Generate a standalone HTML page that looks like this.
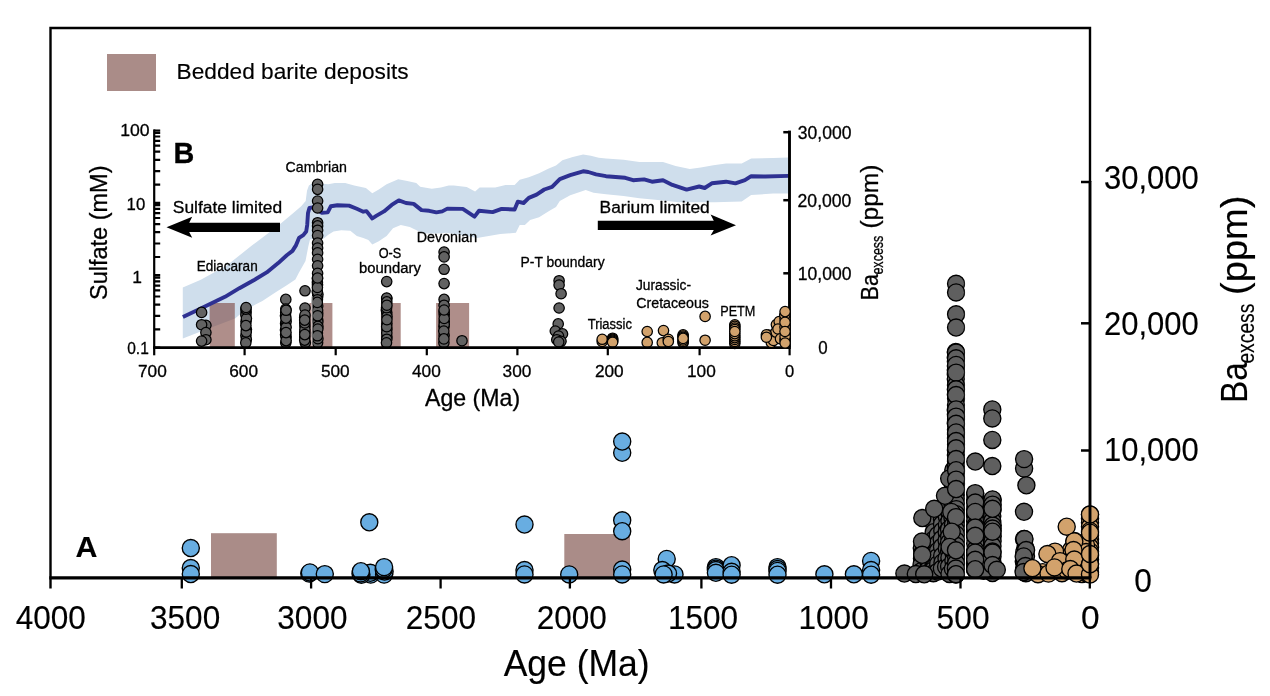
<!DOCTYPE html>
<html lang="en"><head><meta charset="utf-8"><title>Ba excess vs Age</title>
<style>
html,body{margin:0;padding:0;background:#fff;}
svg{display:block;}
text{font-family:"Liberation Sans", sans-serif;fill:#000;stroke:#000;stroke-width:0.15px;stroke-linejoin:round;}
.sm text, text.sm{stroke-width:0.3px;}
.b{fill:#68ade1;stroke:#000;stroke-width:1.35;}
.g{fill:#5f5f5f;stroke:#000;stroke-width:1.35;}
.t{fill:#d2a26c;stroke:#000;stroke-width:1.35;}
.gs{fill:#626262;stroke:#000;stroke-width:1.25;}
.ts{fill:#d2a26c;stroke:#000;stroke-width:1.25;}
.ax{stroke:#000;fill:none;}
.br{fill:#aa8c88;}
</style></head><body>
<svg width="1270" height="696" viewBox="0 0 1270 696">
<rect x="0" y="0" width="1270" height="696" fill="#fff"/>
<rect class="br" x="107" y="54" width="49" height="37"/>
<text x="176.6" y="79.4" font-size="21.5" textLength="232" lengthAdjust="spacingAndGlyphs">Bedded barite deposits</text>
<rect class="br" x="211" y="533.2" width="65.8" height="44.7"/>
<rect class="br" x="564.3" y="534" width="65.7" height="43.9"/>
<circle class="b" cx="190.8" cy="548.0" r="8.55"/>
<circle class="b" cx="190.8" cy="568.0" r="8.55"/>
<circle class="b" cx="190.8" cy="574.0" r="8.55"/>
<circle class="b" cx="309.3" cy="573.6" r="8.55"/>
<circle class="b" cx="309.9" cy="572.4" r="8.55"/>
<circle class="b" cx="324.8" cy="574.1" r="8.55"/>
<circle class="b" cx="369.3" cy="522.3" r="8.55"/>
<circle class="b" cx="370.7" cy="574.6" r="8.55"/>
<circle class="b" cx="370.3" cy="572.8" r="8.55"/>
<circle class="b" cx="361.4" cy="574.8" r="8.55"/>
<circle class="b" cx="360.5" cy="573.4" r="8.55"/>
<circle class="b" cx="360.9" cy="571.2" r="8.55"/>
<circle class="b" cx="384.1" cy="574.6" r="8.55"/>
<circle class="b" cx="384.6" cy="571.5" r="8.55"/>
<circle class="b" cx="383.7" cy="569.2" r="8.55"/>
<circle class="b" cx="384.1" cy="567.1" r="8.55"/>
<circle class="b" cx="524.5" cy="524.5" r="8.55"/>
<circle class="b" cx="524.5" cy="570.0" r="8.55"/>
<circle class="b" cx="524.5" cy="574.4" r="8.55"/>
<circle class="b" cx="569.2" cy="574.4" r="8.55"/>
<circle class="b" cx="622.2" cy="452.8" r="8.55"/>
<circle class="b" cx="622.2" cy="441.5" r="8.55"/>
<circle class="b" cx="622.2" cy="520.3" r="8.55"/>
<circle class="b" cx="622.2" cy="531.2" r="8.55"/>
<circle class="b" cx="622.2" cy="569.5" r="8.55"/>
<circle class="b" cx="622.2" cy="574.4" r="8.55"/>
<circle class="b" cx="666.7" cy="558.9" r="8.55"/>
<circle class="b" cx="662.3" cy="570.0" r="8.55"/>
<circle class="b" cx="674.5" cy="574.4" r="8.55"/>
<circle class="b" cx="668.0" cy="573.5" r="8.55"/>
<circle class="b" cx="663.6" cy="574.4" r="8.55"/>
<circle class="b" cx="715.9" cy="567.1" r="8.55"/>
<circle class="b" cx="715.9" cy="568.6" r="8.55"/>
<circle class="b" cx="715.9" cy="570.0" r="8.55"/>
<circle class="b" cx="715.9" cy="572.8" r="8.55"/>
<circle class="b" cx="731.6" cy="565.2" r="8.55"/>
<circle class="b" cx="731.6" cy="571.8" r="8.55"/>
<circle class="b" cx="731.6" cy="574.7" r="8.55"/>
<circle class="b" cx="777.5" cy="567.1" r="8.55"/>
<circle class="b" cx="777.5" cy="569.0" r="8.55"/>
<circle class="b" cx="777.5" cy="570.9" r="8.55"/>
<circle class="b" cx="777.5" cy="574.7" r="8.55"/>
<circle class="b" cx="824.4" cy="574.3" r="8.55"/>
<circle class="b" cx="853.9" cy="574.3" r="8.55"/>
<circle class="b" cx="871.1" cy="560.9" r="8.55"/>
<circle class="b" cx="871.1" cy="570.0" r="8.55"/>
<circle class="b" cx="871.1" cy="574.7" r="8.55"/>
<circle class="g" cx="921.8" cy="548.0" r="8.55"/>
<circle class="g" cx="922.2" cy="553.4" r="8.55"/>
<circle class="g" cx="922.0" cy="558.5" r="8.55"/>
<circle class="g" cx="921.6" cy="564.5" r="8.55"/>
<circle class="g" cx="921.5" cy="571.1" r="8.55"/>
<circle class="g" cx="928.1" cy="556.0" r="8.55"/>
<circle class="g" cx="928.4" cy="561.6" r="8.55"/>
<circle class="g" cx="928.1" cy="569.7" r="8.55"/>
<circle class="g" cx="933.7" cy="523.0" r="8.55"/>
<circle class="g" cx="933.7" cy="532.2" r="8.55"/>
<circle class="g" cx="934.1" cy="539.3" r="8.55"/>
<circle class="g" cx="934.0" cy="545.1" r="8.55"/>
<circle class="g" cx="933.6" cy="548.0" r="8.55"/>
<circle class="g" cx="933.6" cy="551.3" r="8.55"/>
<circle class="g" cx="933.6" cy="554.6" r="8.55"/>
<circle class="g" cx="933.6" cy="557.9" r="8.55"/>
<circle class="g" cx="933.6" cy="561.2" r="8.55"/>
<circle class="g" cx="933.6" cy="564.5" r="8.55"/>
<circle class="g" cx="933.6" cy="567.8" r="8.55"/>
<circle class="g" cx="933.2" cy="570.0" r="8.55"/>
<circle class="g" cx="933.4" cy="573.2" r="8.55"/>
<circle class="g" cx="937.7" cy="535.0" r="8.55"/>
<circle class="g" cx="938.1" cy="543.3" r="8.55"/>
<circle class="g" cx="938.0" cy="550.8" r="8.55"/>
<circle class="g" cx="937.6" cy="557.1" r="8.55"/>
<circle class="g" cx="938.2" cy="563.9" r="8.55"/>
<circle class="g" cx="937.8" cy="571.6" r="8.55"/>
<circle class="g" cx="942.0" cy="512.0" r="8.55"/>
<circle class="g" cx="942.0" cy="514.3" r="8.55"/>
<circle class="g" cx="942.0" cy="516.6" r="8.55"/>
<circle class="g" cx="942.0" cy="518.9" r="8.55"/>
<circle class="g" cx="942.0" cy="524.0" r="8.55"/>
<circle class="g" cx="942.3" cy="530.7" r="8.55"/>
<circle class="g" cx="941.7" cy="539.0" r="8.55"/>
<circle class="g" cx="942.0" cy="546.8" r="8.55"/>
<circle class="g" cx="942.2" cy="555.7" r="8.55"/>
<circle class="g" cx="942.5" cy="562.4" r="8.55"/>
<circle class="g" cx="941.9" cy="568.5" r="8.55"/>
<circle class="g" cx="946.2" cy="500.0" r="8.55"/>
<circle class="g" cx="946.0" cy="508.0" r="8.55"/>
<circle class="g" cx="946.8" cy="516.6" r="8.55"/>
<circle class="g" cx="946.9" cy="524.9" r="8.55"/>
<circle class="g" cx="946.7" cy="532.2" r="8.55"/>
<circle class="g" cx="946.6" cy="540.6" r="8.55"/>
<circle class="g" cx="946.8" cy="548.4" r="8.55"/>
<circle class="g" cx="946.5" cy="558.2" r="8.55"/>
<circle class="g" cx="946.1" cy="566.8" r="8.55"/>
<circle class="g" cx="949.6" cy="505.0" r="8.55"/>
<circle class="g" cx="949.8" cy="514.3" r="8.55"/>
<circle class="g" cx="949.4" cy="521.0" r="8.55"/>
<circle class="g" cx="949.0" cy="529.2" r="8.55"/>
<circle class="g" cx="949.2" cy="536.5" r="8.55"/>
<circle class="g" cx="949.1" cy="542.6" r="8.55"/>
<circle class="g" cx="949.1" cy="551.1" r="8.55"/>
<circle class="g" cx="949.4" cy="557.7" r="8.55"/>
<circle class="g" cx="949.1" cy="566.5" r="8.55"/>
<circle class="g" cx="949.5" cy="573.9" r="8.55"/>
<circle class="g" cx="953.3" cy="470.0" r="8.55"/>
<circle class="g" cx="952.8" cy="478.3" r="8.55"/>
<circle class="g" cx="952.9" cy="485.0" r="8.55"/>
<circle class="g" cx="953.5" cy="493.3" r="8.55"/>
<circle class="g" cx="952.7" cy="499.1" r="8.55"/>
<circle class="g" cx="952.7" cy="505.2" r="8.55"/>
<circle class="g" cx="953.1" cy="512.1" r="8.55"/>
<circle class="g" cx="952.5" cy="518.3" r="8.55"/>
<circle class="g" cx="952.9" cy="525.0" r="8.55"/>
<circle class="g" cx="953.5" cy="532.2" r="8.55"/>
<circle class="g" cx="953.0" cy="539.9" r="8.55"/>
<circle class="g" cx="953.2" cy="547.3" r="8.55"/>
<circle class="g" cx="953.4" cy="552.7" r="8.55"/>
<circle class="g" cx="953.4" cy="560.7" r="8.55"/>
<circle class="g" cx="952.9" cy="568.8" r="8.55"/>
<circle class="g" cx="955.8" cy="352.0" r="8.55"/>
<circle class="g" cx="955.8" cy="357.5" r="8.55"/>
<circle class="g" cx="955.9" cy="361.6" r="8.55"/>
<circle class="g" cx="955.9" cy="365.9" r="8.55"/>
<circle class="g" cx="955.8" cy="370.0" r="8.55"/>
<circle class="g" cx="955.8" cy="374.3" r="8.55"/>
<circle class="g" cx="955.8" cy="379.1" r="8.55"/>
<circle class="g" cx="956.0" cy="385.3" r="8.55"/>
<circle class="g" cx="955.9" cy="389.6" r="8.55"/>
<circle class="g" cx="955.9" cy="394.4" r="8.55"/>
<circle class="g" cx="956.1" cy="398.6" r="8.55"/>
<circle class="g" cx="956.0" cy="405.1" r="8.55"/>
<circle class="g" cx="955.8" cy="410.2" r="8.55"/>
<circle class="g" cx="955.9" cy="414.4" r="8.55"/>
<circle class="g" cx="956.1" cy="419.0" r="8.55"/>
<circle class="g" cx="955.8" cy="423.3" r="8.55"/>
<circle class="g" cx="956.0" cy="429.7" r="8.55"/>
<circle class="g" cx="956.0" cy="434.0" r="8.55"/>
<circle class="g" cx="956.0" cy="437.9" r="8.55"/>
<circle class="g" cx="956.1" cy="444.4" r="8.55"/>
<circle class="g" cx="955.9" cy="450.1" r="8.55"/>
<circle class="g" cx="955.9" cy="454.9" r="8.55"/>
<circle class="g" cx="956.0" cy="460.9" r="8.55"/>
<circle class="g" cx="955.9" cy="466.8" r="8.55"/>
<circle class="g" cx="956.1" cy="471.3" r="8.55"/>
<circle class="g" cx="956.1" cy="477.7" r="8.55"/>
<circle class="g" cx="956.1" cy="483.7" r="8.55"/>
<circle class="g" cx="955.9" cy="489.5" r="8.55"/>
<circle class="g" cx="955.9" cy="494.8" r="8.55"/>
<circle class="g" cx="955.8" cy="498.8" r="8.55"/>
<circle class="g" cx="955.9" cy="503.4" r="8.55"/>
<circle class="g" cx="956.2" cy="509.1" r="8.55"/>
<circle class="g" cx="956.2" cy="514.2" r="8.55"/>
<circle class="g" cx="956.2" cy="520.6" r="8.55"/>
<circle class="g" cx="955.9" cy="525.5" r="8.55"/>
<circle class="g" cx="955.9" cy="530.0" r="8.55"/>
<circle class="g" cx="956.0" cy="534.4" r="8.55"/>
<circle class="g" cx="956.1" cy="540.6" r="8.55"/>
<circle class="g" cx="956.1" cy="545.8" r="8.55"/>
<circle class="g" cx="955.8" cy="551.8" r="8.55"/>
<circle class="g" cx="956.2" cy="557.4" r="8.55"/>
<circle class="g" cx="956.1" cy="563.3" r="8.55"/>
<circle class="g" cx="955.9" cy="568.5" r="8.55"/>
<circle class="g" cx="955.9" cy="574.4" r="8.55"/>
<circle class="g" cx="1025.4" cy="548.0" r="8.55"/>
<circle class="g" cx="1024.3" cy="552.3" r="8.55"/>
<circle class="g" cx="1024.9" cy="557.8" r="8.55"/>
<circle class="g" cx="1023.8" cy="561.5" r="8.55"/>
<circle class="g" cx="1025.3" cy="565.2" r="8.55"/>
<circle class="g" cx="1023.8" cy="570.4" r="8.55"/>
<circle class="g" cx="1026.0" cy="556.0" r="8.55"/>
<circle class="g" cx="1024.7" cy="562.5" r="8.55"/>
<circle class="g" cx="1024.3" cy="568.6" r="8.55"/>
<circle class="g" cx="1025.9" cy="573.2" r="8.55"/>
<circle class="g" cx="975.2" cy="494.0" r="8.55"/>
<circle class="g" cx="975.2" cy="500.3" r="8.55"/>
<circle class="g" cx="975.4" cy="506.5" r="8.55"/>
<circle class="g" cx="975.1" cy="510.9" r="8.55"/>
<circle class="g" cx="975.0" cy="515.6" r="8.55"/>
<circle class="g" cx="975.1" cy="521.0" r="8.55"/>
<circle class="g" cx="975.0" cy="526.0" r="8.55"/>
<circle class="g" cx="975.1" cy="532.3" r="8.55"/>
<circle class="g" cx="975.3" cy="537.4" r="8.55"/>
<circle class="g" cx="975.2" cy="543.6" r="8.55"/>
<circle class="g" cx="975.2" cy="549.9" r="8.55"/>
<circle class="g" cx="975.2" cy="555.2" r="8.55"/>
<circle class="g" cx="975.2" cy="559.1" r="8.55"/>
<circle class="g" cx="974.9" cy="563.5" r="8.55"/>
<circle class="g" cx="975.0" cy="569.5" r="8.55"/>
<circle class="g" cx="992.6" cy="500.0" r="8.55"/>
<circle class="g" cx="992.4" cy="505.1" r="8.55"/>
<circle class="g" cx="992.5" cy="510.2" r="8.55"/>
<circle class="g" cx="992.3" cy="515.9" r="8.55"/>
<circle class="g" cx="992.3" cy="521.0" r="8.55"/>
<circle class="g" cx="992.7" cy="525.5" r="8.55"/>
<circle class="g" cx="992.5" cy="530.5" r="8.55"/>
<circle class="g" cx="992.7" cy="536.2" r="8.55"/>
<circle class="g" cx="992.6" cy="541.0" r="8.55"/>
<circle class="g" cx="992.5" cy="546.0" r="8.55"/>
<circle class="g" cx="992.5" cy="551.5" r="8.55"/>
<circle class="g" cx="992.5" cy="556.6" r="8.55"/>
<circle class="g" cx="992.6" cy="562.7" r="8.55"/>
<circle class="g" cx="992.8" cy="568.6" r="8.55"/>
<circle class="g" cx="992.5" cy="573.0" r="8.55"/>
<circle class="g" cx="984.3" cy="560.0" r="8.55"/>
<circle class="g" cx="983.6" cy="564.9" r="8.55"/>
<circle class="g" cx="983.6" cy="570.7" r="8.55"/>
<circle class="g" cx="904.4" cy="573.5" r="8.55"/>
<circle class="g" cx="915.8" cy="574.0" r="8.55"/>
<circle class="g" cx="924.2" cy="574.3" r="8.55"/>
<circle class="g" cx="922.3" cy="518.0" r="8.55"/>
<circle class="g" cx="922.0" cy="541.5" r="8.55"/>
<circle class="g" cx="922.2" cy="554.8" r="8.55"/>
<circle class="g" cx="934.2" cy="508.8" r="8.55"/>
<circle class="g" cx="945.0" cy="495.8" r="8.55"/>
<circle class="g" cx="949.2" cy="478.6" r="8.55"/>
<circle class="g" cx="956.1" cy="283.8" r="8.55"/>
<circle class="g" cx="956.1" cy="292.4" r="8.55"/>
<circle class="g" cx="956.1" cy="314.3" r="8.55"/>
<circle class="g" cx="956.1" cy="327.5" r="8.55"/>
<circle class="g" cx="956.1" cy="352.5" r="8.55"/>
<circle class="g" cx="956.1" cy="358.3" r="8.55"/>
<circle class="g" cx="956.1" cy="364.9" r="8.55"/>
<circle class="g" cx="956.1" cy="372.6" r="8.55"/>
<circle class="g" cx="956.1" cy="389.3" r="8.55"/>
<circle class="g" cx="956.1" cy="395.0" r="8.55"/>
<circle class="g" cx="956.1" cy="409.4" r="8.55"/>
<circle class="g" cx="956.1" cy="416.6" r="8.55"/>
<circle class="g" cx="956.1" cy="423.8" r="8.55"/>
<circle class="g" cx="956.1" cy="432.4" r="8.55"/>
<circle class="g" cx="956.1" cy="441.0" r="8.55"/>
<circle class="g" cx="956.1" cy="448.3" r="8.55"/>
<circle class="g" cx="956.1" cy="459.0" r="8.55"/>
<circle class="g" cx="956.1" cy="470.2" r="8.55"/>
<circle class="g" cx="956.1" cy="479.6" r="8.55"/>
<circle class="g" cx="956.1" cy="489.0" r="8.55"/>
<circle class="g" cx="951.3" cy="511.9" r="8.55"/>
<circle class="g" cx="956.0" cy="517.1" r="8.55"/>
<circle class="g" cx="951.7" cy="531.7" r="8.55"/>
<circle class="g" cx="949.6" cy="546.9" r="8.55"/>
<circle class="g" cx="956.0" cy="550.3" r="8.55"/>
<circle class="g" cx="956.0" cy="574.2" r="8.55"/>
<circle class="g" cx="975.3" cy="461.5" r="8.55"/>
<circle class="g" cx="975.2" cy="493.1" r="8.55"/>
<circle class="g" cx="975.2" cy="502.5" r="8.55"/>
<circle class="g" cx="975.2" cy="511.9" r="8.55"/>
<circle class="g" cx="975.2" cy="527.5" r="8.55"/>
<circle class="g" cx="975.2" cy="535.8" r="8.55"/>
<circle class="g" cx="975.2" cy="552.5" r="8.55"/>
<circle class="g" cx="975.2" cy="559.8" r="8.55"/>
<circle class="g" cx="975.2" cy="569.2" r="8.55"/>
<circle class="g" cx="992.3" cy="409.4" r="8.55"/>
<circle class="g" cx="992.3" cy="418.4" r="8.55"/>
<circle class="g" cx="992.3" cy="439.9" r="8.55"/>
<circle class="g" cx="992.3" cy="466.0" r="8.55"/>
<circle class="g" cx="992.5" cy="499.4" r="8.55"/>
<circle class="g" cx="992.5" cy="504.6" r="8.55"/>
<circle class="g" cx="992.5" cy="508.8" r="8.55"/>
<circle class="g" cx="992.5" cy="528.5" r="8.55"/>
<circle class="g" cx="992.5" cy="531.7" r="8.55"/>
<circle class="g" cx="992.5" cy="552.5" r="8.55"/>
<circle class="g" cx="992.5" cy="565.0" r="8.55"/>
<circle class="g" cx="996.8" cy="569.8" r="8.55"/>
<circle class="g" cx="1024.1" cy="468.6" r="8.55"/>
<circle class="g" cx="1024.1" cy="459.1" r="8.55"/>
<circle class="g" cx="1026.4" cy="485.3" r="8.55"/>
<circle class="g" cx="1024.0" cy="511.8" r="8.55"/>
<circle class="g" cx="1024.0" cy="538.9" r="8.55"/>
<circle class="g" cx="1024.5" cy="539.0" r="8.55"/>
<circle class="g" cx="1026.1" cy="550.0" r="8.55"/>
<circle class="g" cx="1023.7" cy="556.4" r="8.55"/>
<circle class="g" cx="1025.4" cy="566.0" r="8.55"/>
<circle class="g" cx="1023.6" cy="572.0" r="8.55"/>
<rect x="964.9" y="270" width="0.9" height="306" fill="#fff"/>
<circle class="t" cx="1074.5" cy="541.0" r="8.55"/>
<circle class="t" cx="1074.5" cy="545.2" r="8.55"/>
<circle class="t" cx="1074.5" cy="549.4" r="8.55"/>
<circle class="t" cx="1074.5" cy="553.6" r="8.55"/>
<circle class="t" cx="1074.5" cy="557.8" r="8.55"/>
<circle class="t" cx="1074.5" cy="562.0" r="8.55"/>
<circle class="t" cx="1074.5" cy="566.2" r="8.55"/>
<circle class="t" cx="1074.5" cy="570.4" r="8.55"/>
<circle class="t" cx="1071.0" cy="550.0" r="8.55"/>
<circle class="t" cx="1071.0" cy="555.0" r="8.55"/>
<circle class="t" cx="1071.0" cy="560.0" r="8.55"/>
<circle class="t" cx="1071.0" cy="565.0" r="8.55"/>
<circle class="t" cx="1071.0" cy="570.0" r="8.55"/>
<circle class="t" cx="1078.5" cy="549.0" r="8.55"/>
<circle class="t" cx="1078.5" cy="555.5" r="8.55"/>
<circle class="t" cx="1078.5" cy="562.0" r="8.55"/>
<circle class="t" cx="1078.5" cy="568.5" r="8.55"/>
<circle class="t" cx="1082.0" cy="556.0" r="8.55"/>
<circle class="t" cx="1082.0" cy="562.0" r="8.55"/>
<circle class="t" cx="1082.0" cy="568.0" r="8.55"/>
<circle class="t" cx="1082.0" cy="574.0" r="8.55"/>
<circle class="t" cx="1090.0" cy="514.5" r="8.55"/>
<circle class="t" cx="1090.0" cy="518.6" r="8.55"/>
<circle class="t" cx="1090.0" cy="522.7" r="8.55"/>
<circle class="t" cx="1090.0" cy="526.8" r="8.55"/>
<circle class="t" cx="1090.0" cy="530.9" r="8.55"/>
<circle class="t" cx="1090.0" cy="535.0" r="8.55"/>
<circle class="t" cx="1090.0" cy="539.1" r="8.55"/>
<circle class="t" cx="1090.0" cy="543.2" r="8.55"/>
<circle class="t" cx="1090.0" cy="547.3" r="8.55"/>
<circle class="t" cx="1090.0" cy="551.4" r="8.55"/>
<circle class="t" cx="1090.0" cy="555.5" r="8.55"/>
<circle class="t" cx="1090.0" cy="559.6" r="8.55"/>
<circle class="t" cx="1090.0" cy="563.7" r="8.55"/>
<circle class="t" cx="1090.0" cy="567.8" r="8.55"/>
<circle class="t" cx="1090.0" cy="571.9" r="8.55"/>
<circle class="t" cx="1086.0" cy="545.0" r="8.55"/>
<circle class="t" cx="1086.0" cy="552.0" r="8.55"/>
<circle class="t" cx="1086.0" cy="559.0" r="8.55"/>
<circle class="t" cx="1086.0" cy="566.0" r="8.55"/>
<circle class="t" cx="1086.0" cy="573.0" r="8.55"/>
<circle class="t" cx="1066.7" cy="526.7" r="8.55"/>
<circle class="t" cx="1055.0" cy="551.6" r="8.55"/>
<circle class="t" cx="1047.4" cy="554.0" r="8.55"/>
<circle class="t" cx="1060.0" cy="561.1" r="8.55"/>
<circle class="t" cx="1042.7" cy="572.2" r="8.55"/>
<circle class="t" cx="1038.0" cy="574.2" r="8.55"/>
<circle class="t" cx="1048.5" cy="573.6" r="8.55"/>
<circle class="t" cx="1062.0" cy="573.2" r="8.55"/>
<circle class="t" cx="1067.0" cy="570.5" r="8.55"/>
<circle class="t" cx="1032.4" cy="568.2" r="8.55"/>
<circle class="t" cx="1054.5" cy="567.4" r="8.55"/>
<circle class="t" cx="1074.3" cy="541.4" r="8.55"/>
<circle class="t" cx="1073.5" cy="550.0" r="8.55"/>
<circle class="t" cx="1074.3" cy="559.5" r="8.55"/>
<circle class="t" cx="1070.3" cy="569.0" r="8.55"/>
<circle class="t" cx="1076.5" cy="573.5" r="8.55"/>
<circle class="t" cx="1090.0" cy="574.5" r="8.55"/>
<circle class="t" cx="1090.0" cy="564.3" r="8.55"/>
<circle class="t" cx="1090.0" cy="554.0" r="8.55"/>
<circle class="t" cx="1090.0" cy="532.7" r="8.55"/>
<circle class="t" cx="1090.0" cy="514.5" r="8.55"/>
<path class="ax" stroke-width="2.4" d="M50.5,588.4V28.05H1090V182"/>
<path class="ax" stroke-width="2.9" d="M1090,181V577.9"/>
<path class="ax" stroke-width="3.1" d="M49.3,577.9H1091.4"/>
<path class="ax" stroke-width="2.3" d="M181.8,577.9V588.5M311.1,577.9V588.5M440.6,577.9V588.5M569.9,577.9V588.5M701.4,577.9V588.5M831,577.9V588.5M960.5,577.9V588.5M1089.8,577.9V588.5"/>
<text x="50.8" y="628.7" font-size="32.6" textLength="70.2" lengthAdjust="spacingAndGlyphs" text-anchor="middle">4000</text>
<text x="185.10000000000002" y="628.7" font-size="32.6" textLength="70.2" lengthAdjust="spacingAndGlyphs" text-anchor="middle">3500</text>
<text x="312.40000000000003" y="628.7" font-size="32.6" textLength="70.2" lengthAdjust="spacingAndGlyphs" text-anchor="middle">3000</text>
<text x="440.90000000000003" y="628.7" font-size="32.6" textLength="70.2" lengthAdjust="spacingAndGlyphs" text-anchor="middle">2500</text>
<text x="571.8" y="628.7" font-size="32.6" textLength="70.2" lengthAdjust="spacingAndGlyphs" text-anchor="middle">2000</text>
<text x="702.9999999999999" y="628.7" font-size="32.6" textLength="70.2" lengthAdjust="spacingAndGlyphs" text-anchor="middle">1500</text>
<text x="833.5999999999999" y="628.7" font-size="32.6" textLength="70.2" lengthAdjust="spacingAndGlyphs" text-anchor="middle">1000</text>
<text x="963.0999999999999" y="628.7" font-size="32.6" textLength="53" lengthAdjust="spacingAndGlyphs" text-anchor="middle">500</text>
<text x="1090.3999999999999" y="628.7" font-size="32.6" textLength="18.6" lengthAdjust="spacingAndGlyphs" text-anchor="middle">0</text>
<path class="ax" stroke-width="2.5" d="M1081,182H1090"/>
<path class="ax" stroke-width="2.5" d="M1081,323.3H1090"/>
<path class="ax" stroke-width="2.5" d="M1081,450.5H1090"/>
<text x="1104" y="189.3" font-size="32.5" textLength="94.8" lengthAdjust="spacingAndGlyphs">30,000</text>
<text x="1104" y="335.1" font-size="32.5" textLength="94.8" lengthAdjust="spacingAndGlyphs">20,000</text>
<text x="1104" y="461.2" font-size="32.5" textLength="94.8" lengthAdjust="spacingAndGlyphs">10,000</text>
<text x="1134.2" y="591.8" font-size="32.5" textLength="17.6" lengthAdjust="spacingAndGlyphs">0</text>
<text x="576.7" y="675.9" font-size="37" textLength="146" lengthAdjust="spacingAndGlyphs" text-anchor="middle">Age (Ma)</text>
<text x="75.4" y="557" font-size="30.4" font-weight="bold">A</text>
<g transform="translate(1246.7,403) rotate(-90)">
<text x="0" y="0" font-size="37.4" textLength="40.6" lengthAdjust="spacingAndGlyphs">Ba</text>
<text x="39.4" y="7.1" font-size="23.6" textLength="60" lengthAdjust="spacingAndGlyphs">excess</text>
<text x="108" y="0" font-size="37.4" textLength="99.5" lengthAdjust="spacingAndGlyphs">(ppm)</text>
</g>
<g class="sm">
<path fill="#cfdeec" d="M182.8,287.6L200.8,279.8L226.7,265.6L252.5,245L278.4,225.6L293.9,212.6L301.2,206.2L305.7,201L307,190.7L308.9,185.5L312.8,182.9L328.3,184.2L334.8,182.9L345.2,182.9L354.2,185.5L365.9,188.1L372.3,193.3L378.8,189.4L386.6,184.2L398.2,179.3L407.3,181L416.3,182.9L420.2,186.8L431.8,188.8L440.9,187.5L448.7,185.5L453.8,185.6L466.7,186.9L475.1,191.4L479.6,187.5L495.2,187.5L505.5,184.9L514.6,184.9L519.7,179.8L528.8,177.2L539.1,173.3L548.2,168.8L556,165.5L562.4,160.3L572.8,157.1L583.1,154.5L590.9,155.8L598.7,157.8L606,158.6L623.6,159.7L639.4,162L663,162L675.6,166L689.8,169.1L700.8,167.6L713.4,165.2L726,163.6L741.7,163.6L751.2,158.6L773.2,158.1L788.5,157.5L788.5,193.5L773.2,193.5L751.2,195.1L741.7,201.4L715,202.2L678.7,202.2L663,200.6L639.4,198.3L623.6,195.9L606,194.2L593.5,192.7L585.7,190.1L570.2,195.3L559.8,201.1L556,206.9L549.5,210.8L539.1,217.3L530.1,219.9L524.9,225L519.7,225L515.9,232.8L500.3,234.1L488.7,236L477,238L464.1,235.4L446,232.8L439,233.6L425.4,233.4L417.6,230.8L409.8,226.9L400.8,225L393,228.2L386.6,236L378.8,241.2L372.3,244.4L368.4,239.9L363.3,237.9L356.8,236L350.3,230.8L341.3,230.2L333.5,231.4L328.3,234.7L323.8,238.6L310,239.5L308.3,246.6L305.5,260.9L299,272.4L295.4,279.6L286.8,285.3L275.3,292.5L262.4,301.1L253.7,305.5L243.7,311.2L235.1,318.4L200.8,331.5L182.8,338.5Z"/>
<rect fill="#7e4942" opacity="0.62" x="209.6" y="303" width="25.2" height="44.6"/>
<rect fill="#7e4942" opacity="0.62" x="309.4" y="303" width="23.0" height="44.6"/>
<rect fill="#7e4942" opacity="0.62" x="380.9" y="303" width="19.8" height="44.6"/>
<rect fill="#7e4942" opacity="0.62" x="436.1" y="303" width="33.0" height="44.6"/>
<path fill="none" stroke="#2e3192" stroke-width="3.9" stroke-linejoin="round" stroke-linecap="butt" d="M182.9,316.9L198.7,309.5L225,296.8L239.4,288.2L253.7,280.3L266.7,272.4L278.2,263.1L286.8,255.2L292.5,250.9L296.1,245.1L299,237.9L303.3,235.1L306.2,231.5L307.2,225L308,213L309.4,208L312.8,207.3L321.9,212.7L327.7,212.4L330.9,206.2L337.4,205.2L349,205.6L356.8,208.8L363.3,211.7L366.5,211.1L372.3,218.5L376.2,215.9L384,211.4L391.7,204.9L398.8,200.4L406,203L413.7,203.9L421.5,210.1L429.2,210.8L436.4,212.4L442.2,211.4L447.4,208.6L462.8,208.9L474.5,216.6L479,210.8L492.6,212.1L501.6,208.9L514.6,209.5L517.8,201.7L523.6,203L528.8,197.9L536.6,194.6L544.3,189.5L552.1,186.9L559.8,179.1L570.2,175.2L583.1,171.3L588.3,172L596.1,174.3L606,176.2L625.2,177.8L633.1,180.2L644.1,179.4L652,181.7L663,180.2L672.4,184.9L686.6,189.6L699.2,186.5L704.7,188L711.8,183.3L726,181.7L735.4,183.3L744.9,180.2L751.2,176.2L765.4,176.5L788.5,175.9"/>
<circle class="gs" cx="201.6" cy="312.4" r="5.2"/>
<circle class="gs" cx="205.9" cy="325.3" r="5.2"/>
<circle class="gs" cx="201.6" cy="324.7" r="5.2"/>
<circle class="gs" cx="205.9" cy="332.5" r="5.2"/>
<circle class="gs" cx="205.9" cy="339.7" r="5.2"/>
<circle class="gs" cx="201.6" cy="341.1" r="5.2"/>
<circle class="gs" cx="246.4" cy="329.6" r="5.2"/>
<circle class="gs" cx="245.9" cy="335.5" r="5.2"/>
<circle class="gs" cx="246.3" cy="339.4" r="5.2"/>
<circle class="gs" cx="246.0" cy="321.7" r="5.2"/>
<circle class="gs" cx="246.1" cy="311.9" r="5.2"/>
<circle class="gs" cx="245.9" cy="314.9" r="5.2"/>
<circle class="gs" cx="246.2" cy="332.0" r="5.2"/>
<circle class="gs" cx="246.4" cy="318.6" r="5.2"/>
<circle class="gs" cx="245.9" cy="309.1" r="5.2"/>
<circle class="gs" cx="245.8" cy="342.8" r="5.2"/>
<circle class="gs" cx="245.9" cy="325.6" r="5.2"/>
<circle class="gs" cx="246.1" cy="307.5" r="5.2"/>
<circle class="gs" cx="285.8" cy="299.4" r="5.2"/>
<circle class="gs" cx="285.6" cy="323.6" r="5.2"/>
<circle class="gs" cx="286.1" cy="337.1" r="5.2"/>
<circle class="gs" cx="286.1" cy="321.2" r="5.2"/>
<circle class="gs" cx="285.5" cy="330.0" r="5.2"/>
<circle class="gs" cx="285.5" cy="315.8" r="5.2"/>
<circle class="gs" cx="285.8" cy="342.8" r="5.2"/>
<circle class="gs" cx="286.1" cy="327.2" r="5.2"/>
<circle class="gs" cx="285.8" cy="309.0" r="5.2"/>
<circle class="gs" cx="285.7" cy="312.5" r="5.2"/>
<circle class="gs" cx="285.6" cy="334.8" r="5.2"/>
<circle class="gs" cx="285.9" cy="318.1" r="5.2"/>
<circle class="gs" cx="286.1" cy="340.6" r="5.2"/>
<circle class="gs" cx="286.0" cy="332.6" r="5.2"/>
<circle class="gs" cx="286.1" cy="310.3" r="5.2"/>
<circle class="gs" cx="305.0" cy="290.8" r="5.2"/>
<circle class="gs" cx="305.0" cy="308.0" r="5.2"/>
<circle class="gs" cx="304.8" cy="332.3" r="5.2"/>
<circle class="gs" cx="304.9" cy="326.0" r="5.2"/>
<circle class="gs" cx="304.8" cy="337.0" r="5.2"/>
<circle class="gs" cx="304.9" cy="329.6" r="5.2"/>
<circle class="gs" cx="305.3" cy="342.8" r="5.2"/>
<circle class="gs" cx="304.7" cy="317.5" r="5.2"/>
<circle class="gs" cx="304.7" cy="340.1" r="5.2"/>
<circle class="gs" cx="304.8" cy="322.9" r="5.2"/>
<circle class="gs" cx="305.0" cy="315.0" r="5.2"/>
<circle class="gs" cx="304.8" cy="334.6" r="5.2"/>
<circle class="gs" cx="304.7" cy="320.1" r="5.2"/>
<circle class="gs" cx="317.6" cy="184.3" r="5.2"/>
<circle class="gs" cx="317.6" cy="189.3" r="5.2"/>
<circle class="gs" cx="317.6" cy="201.1" r="5.2"/>
<circle class="gs" cx="317.6" cy="208.0" r="5.2"/>
<circle class="gs" cx="317.6" cy="222.7" r="5.2"/>
<circle class="gs" cx="317.6" cy="225.9" r="5.2"/>
<circle class="gs" cx="317.6" cy="230.2" r="5.2"/>
<circle class="gs" cx="317.6" cy="235.6" r="5.2"/>
<circle class="gs" cx="317.6" cy="243.1" r="5.2"/>
<circle class="gs" cx="317.6" cy="248.0" r="5.2"/>
<circle class="gs" cx="317.6" cy="252.8" r="5.2"/>
<circle class="gs" cx="317.6" cy="259.3" r="5.2"/>
<circle class="gs" cx="317.6" cy="265.8" r="5.2"/>
<circle class="gs" cx="317.6" cy="273.3" r="5.2"/>
<circle class="gs" cx="317.5" cy="297.4" r="5.2"/>
<circle class="gs" cx="317.7" cy="319.8" r="5.2"/>
<circle class="gs" cx="317.7" cy="313.3" r="5.2"/>
<circle class="gs" cx="317.7" cy="306.0" r="5.2"/>
<circle class="gs" cx="317.9" cy="294.4" r="5.2"/>
<circle class="gs" cx="317.8" cy="322.1" r="5.2"/>
<circle class="gs" cx="317.9" cy="326.4" r="5.2"/>
<circle class="gs" cx="317.4" cy="282.2" r="5.2"/>
<circle class="gs" cx="317.4" cy="278.6" r="5.2"/>
<circle class="gs" cx="317.3" cy="291.5" r="5.2"/>
<circle class="gs" cx="317.4" cy="333.0" r="5.2"/>
<circle class="gs" cx="317.6" cy="310.3" r="5.2"/>
<circle class="gs" cx="317.4" cy="299.7" r="5.2"/>
<circle class="gs" cx="317.5" cy="284.7" r="5.2"/>
<circle class="gs" cx="317.6" cy="342.8" r="5.2"/>
<circle class="gs" cx="317.4" cy="287.4" r="5.2"/>
<circle class="gs" cx="317.9" cy="338.7" r="5.2"/>
<circle class="gs" cx="317.3" cy="302.4" r="5.2"/>
<circle class="gs" cx="317.8" cy="329.0" r="5.2"/>
<circle class="gs" cx="317.6" cy="278.0" r="5.2"/>
<circle class="gs" cx="317.6" cy="315.8" r="5.2"/>
<circle class="gs" cx="317.4" cy="335.8" r="5.2"/>
<circle class="gs" cx="386.7" cy="281.6" r="5.2"/>
<circle class="gs" cx="386.9" cy="329.2" r="5.2"/>
<circle class="gs" cx="386.8" cy="298.5" r="5.2"/>
<circle class="gs" cx="386.7" cy="298.0" r="5.2"/>
<circle class="gs" cx="386.9" cy="336.8" r="5.2"/>
<circle class="gs" cx="386.8" cy="332.9" r="5.2"/>
<circle class="gs" cx="386.9" cy="323.5" r="5.2"/>
<circle class="gs" cx="386.7" cy="326.7" r="5.2"/>
<circle class="gs" cx="386.8" cy="312.8" r="5.2"/>
<circle class="gs" cx="386.8" cy="301.9" r="5.2"/>
<circle class="gs" cx="386.4" cy="310.1" r="5.2"/>
<circle class="gs" cx="387.0" cy="316.4" r="5.2"/>
<circle class="gs" cx="386.6" cy="307.7" r="5.2"/>
<circle class="gs" cx="386.8" cy="339.2" r="5.2"/>
<circle class="gs" cx="386.9" cy="305.2" r="5.2"/>
<circle class="gs" cx="386.9" cy="319.7" r="5.2"/>
<circle class="gs" cx="386.5" cy="342.8" r="5.2"/>
<circle class="gs" cx="444.1" cy="252.0" r="5.2"/>
<circle class="gs" cx="444.1" cy="256.9" r="5.2"/>
<circle class="gs" cx="444.1" cy="269.3" r="5.2"/>
<circle class="gs" cx="444.1" cy="283.6" r="5.2"/>
<circle class="gs" cx="444.1" cy="299.4" r="5.2"/>
<circle class="gs" cx="444.1" cy="305.2" r="5.2"/>
<circle class="gs" cx="443.9" cy="342.8" r="5.2"/>
<circle class="gs" cx="444.2" cy="314.7" r="5.2"/>
<circle class="gs" cx="444.1" cy="312.1" r="5.2"/>
<circle class="gs" cx="444.2" cy="321.6" r="5.2"/>
<circle class="gs" cx="444.0" cy="326.8" r="5.2"/>
<circle class="gs" cx="444.2" cy="324.4" r="5.2"/>
<circle class="gs" cx="444.1" cy="335.2" r="5.2"/>
<circle class="gs" cx="444.2" cy="318.5" r="5.2"/>
<circle class="gs" cx="443.8" cy="331.1" r="5.2"/>
<circle class="gs" cx="443.9" cy="338.9" r="5.2"/>
<circle class="gs" cx="444.1" cy="310.0" r="5.2"/>
<circle class="gs" cx="462.0" cy="340.7" r="5.2"/>
<circle class="gs" cx="559.1" cy="280.7" r="5.2"/>
<circle class="gs" cx="559.1" cy="285.1" r="5.2"/>
<circle class="gs" cx="561.1" cy="293.7" r="5.2"/>
<circle class="gs" cx="559.1" cy="308.0" r="5.2"/>
<circle class="gs" cx="558.2" cy="323.9" r="5.2"/>
<circle class="gs" cx="555.3" cy="331.0" r="5.2"/>
<circle class="gs" cx="562.5" cy="333.9" r="5.2"/>
<circle class="gs" cx="558.5" cy="336.0" r="5.2"/>
<circle class="gs" cx="556.8" cy="339.7" r="5.2"/>
<circle class="gs" cx="561.0" cy="341.3" r="5.2"/>
<circle class="gs" cx="558.7" cy="342.0" r="5.2"/>
<rect x="311.6" y="296" width="0.8" height="50" fill="#fff"/>
<circle class="ts" cx="602.2" cy="341.5" r="5.2"/>
<circle class="ts" cx="602.2" cy="339.3" r="5.2"/>
<circle class="ts" cx="612.6" cy="338.2" r="5.2"/>
<circle class="ts" cx="612.6" cy="339.2" r="5.2"/>
<circle class="ts" cx="612.6" cy="340.2" r="5.2"/>
<circle class="ts" cx="612.6" cy="341.2" r="5.2"/>
<circle class="ts" cx="612.6" cy="342.2" r="5.2"/>
<circle class="ts" cx="647.2" cy="342.4" r="5.2"/>
<circle class="ts" cx="647.2" cy="331.5" r="5.2"/>
<circle class="ts" cx="662.3" cy="342.7" r="5.2"/>
<circle class="ts" cx="663.5" cy="330.6" r="5.2"/>
<circle class="ts" cx="668.3" cy="339.3" r="5.2"/>
<circle class="ts" cx="668.3" cy="341.5" r="5.2"/>
<circle class="ts" cx="683.1" cy="334.8" r="5.2"/>
<circle class="ts" cx="683.1" cy="336.0" r="5.2"/>
<circle class="ts" cx="683.1" cy="337.2" r="5.2"/>
<circle class="ts" cx="683.1" cy="342.8" r="5.2"/>
<circle class="ts" cx="683.1" cy="341.4" r="5.2"/>
<circle class="ts" cx="683.1" cy="340.0" r="5.2"/>
<circle class="ts" cx="683.1" cy="338.4" r="5.2"/>
<circle class="ts" cx="705.1" cy="316.4" r="5.2"/>
<circle class="ts" cx="705.1" cy="340.2" r="5.2"/>
<circle class="ts" cx="734.8" cy="324.8" r="5.2"/>
<circle class="ts" cx="734.8" cy="326.3" r="5.2"/>
<circle class="ts" cx="734.8" cy="328.0" r="5.2"/>
<circle class="ts" cx="734.8" cy="329.6" r="5.2"/>
<circle class="ts" cx="734.8" cy="343.4" r="5.2"/>
<circle class="ts" cx="734.8" cy="341.5" r="5.2"/>
<circle class="ts" cx="734.8" cy="339.5" r="5.2"/>
<circle class="ts" cx="734.8" cy="337.6" r="5.2"/>
<circle class="ts" cx="734.8" cy="335.8" r="5.2"/>
<circle class="ts" cx="734.8" cy="333.6" r="5.2"/>
<circle class="ts" cx="734.8" cy="331.5" r="5.2"/>
<path class="ax" stroke-width="2.2" d="M154.2,129.4V355.3"/>
<path class="ax" stroke-width="2.6" d="M153.1,347.6H790.8"/>
<path class="ax" stroke-width="2.9" d="M789.5,130.6V347.6"/>
<path class="ax" stroke-width="2.2" d="M789.6,347.6V355.3"/>
<path class="ax" stroke-width="2.2" d="M244.6,347.6V355.3M335.7,347.6V355.3M426.8,347.6V355.3M517.4,347.6V355.3M607.8,347.6V355.3M699.6,347.6V355.3"/>
<text x="152.39999999999998" y="376.6" font-size="17.4" textLength="28.8" lengthAdjust="spacingAndGlyphs" text-anchor="middle">700</text>
<text x="243.6" y="376.6" font-size="17.4" textLength="28.8" lengthAdjust="spacingAndGlyphs" text-anchor="middle">600</text>
<text x="335.3" y="376.6" font-size="17.4" textLength="28.8" lengthAdjust="spacingAndGlyphs" text-anchor="middle">500</text>
<text x="426.40000000000003" y="376.6" font-size="17.4" textLength="28.8" lengthAdjust="spacingAndGlyphs" text-anchor="middle">400</text>
<text x="517.0" y="376.6" font-size="17.4" textLength="28.8" lengthAdjust="spacingAndGlyphs" text-anchor="middle">300</text>
<text x="609.3" y="376.6" font-size="17.4" textLength="28.8" lengthAdjust="spacingAndGlyphs" text-anchor="middle">200</text>
<text x="701.4" y="376.6" font-size="17.4" textLength="28.8" lengthAdjust="spacingAndGlyphs" text-anchor="middle">100</text>
<text x="789.7" y="376.6" font-size="17.4" textLength="9.2" lengthAdjust="spacingAndGlyphs" text-anchor="middle">0</text>
<circle class="ts" cx="771.3" cy="342.4" r="5.2"/>
<circle class="ts" cx="768.6" cy="335.0" r="5.2"/>
<circle class="ts" cx="773.5" cy="340.5" r="5.2"/>
<circle class="ts" cx="776.4" cy="324.6" r="5.2"/>
<circle class="ts" cx="775.9" cy="332.1" r="5.2"/>
<circle class="ts" cx="779.2" cy="321.5" r="5.2"/>
<circle class="ts" cx="778.0" cy="329.0" r="5.2"/>
<circle class="ts" cx="780.5" cy="338.8" r="5.2"/>
<circle class="ts" cx="766.4" cy="334.8" r="5.2"/>
<circle class="ts" cx="766.4" cy="337.2" r="5.2"/>
<circle class="ts" cx="785.0" cy="340.0" r="5.2"/>
<circle class="ts" cx="785.0" cy="327.0" r="5.2"/>
<circle class="ts" cx="785.0" cy="318.5" r="5.2"/>
<circle class="ts" cx="784.8" cy="315.0" r="5.2"/>
<circle class="ts" cx="785.1" cy="311.6" r="5.2"/>
<circle class="ts" cx="785.1" cy="336.5" r="5.2"/>
<circle class="ts" cx="785.0" cy="322.3" r="5.2"/>
<circle class="ts" cx="785.0" cy="331.5" r="5.2"/>
<circle class="ts" cx="785.1" cy="343.0" r="5.2"/>
<path class="ax" stroke-width="2.2" d="M154.2,347.6H160.2M154.2,329.4H160.2M154.2,315.9H160.2M154.2,304.6H160.2M154.2,296.5H160.2M154.2,290.4H160.2M154.2,285.6H160.2M154.2,281.3H160.2M154.2,277.6H160.2M154.2,275.2H160.2M154.2,257.0H160.2M154.2,243.5H160.2M154.2,232.2H160.2M154.2,224.1H160.2M154.2,218.0H160.2M154.2,213.2H160.2M154.2,208.9H160.2M154.2,205.2H160.2M154.2,202.8H160.2M154.2,184.6H160.2M154.2,171.1H160.2M154.2,159.8H160.2M154.2,151.7H160.2M154.2,145.6H160.2M154.2,140.8H160.2M154.2,136.5H160.2M154.2,132.8H160.2M154.2,130.5H160.2"/>
<text x="149.6" y="135.7" font-size="17.4" textLength="29.4" lengthAdjust="spacingAndGlyphs" text-anchor="end">100</text>
<text x="145.2" y="210.3" font-size="17.4" textLength="18.6" lengthAdjust="spacingAndGlyphs" text-anchor="end">10</text>
<text x="142" y="282.5" font-size="17.4" text-anchor="end">1</text>
<text x="148.8" y="353.9" font-size="17.4" textLength="21.6" lengthAdjust="spacingAndGlyphs" text-anchor="end">0.1</text>
<path class="ax" stroke-width="2.5" d="M783.3,132.2H789.5"/>
<path class="ax" stroke-width="2.5" d="M783.3,200.2H789.5"/>
<path class="ax" stroke-width="2.5" d="M783.3,273.3H789.5"/>
<text x="797.8" y="138.6" font-size="17.9" textLength="53.6" lengthAdjust="spacingAndGlyphs">30,000</text>
<text x="797.6" y="206.7" font-size="17.9" textLength="53.8" lengthAdjust="spacingAndGlyphs">20,000</text>
<text x="797.8" y="279.6" font-size="17.9" textLength="53.6" lengthAdjust="spacingAndGlyphs">10,000</text>
<text x="818.2" y="354.4" font-size="17.9" textLength="9.4" lengthAdjust="spacingAndGlyphs">0</text>
<text x="472.6" y="406" font-size="23.6" textLength="95" lengthAdjust="spacingAndGlyphs" text-anchor="middle">Age (Ma)</text>
<g transform="translate(107.3,300) rotate(-90)"><text x="0" y="0" font-size="24.2" textLength="134.5" lengthAdjust="spacingAndGlyphs">Sulfate (mM)</text></g>
<g transform="translate(878,300.2) rotate(-90)">
<text x="0" y="0" font-size="24.7" textLength="26" lengthAdjust="spacingAndGlyphs">Ba</text>
<text x="25.6" y="5.3" font-size="15.8" textLength="39" lengthAdjust="spacingAndGlyphs">excess</text>
<text x="71.6" y="0" font-size="24.7" textLength="64" lengthAdjust="spacingAndGlyphs">(ppm)</text>
</g>
<text x="173.6" y="163.4" font-size="28.8" font-weight="bold">B</text>
<text x="285.5" y="171.7" font-size="14.2" textLength="61.5" lengthAdjust="spacingAndGlyphs">Cambrian</text>
<text x="196.7" y="270.9" font-size="14" textLength="61" lengthAdjust="spacingAndGlyphs">Ediacaran</text>
<text x="390" y="257.5" font-size="14" textLength="22.6" lengthAdjust="spacingAndGlyphs" text-anchor="middle">O-S</text>
<text x="390" y="272.6" font-size="14" textLength="62" lengthAdjust="spacingAndGlyphs" text-anchor="middle">boundary</text>
<text x="416.8" y="241.6" font-size="14" textLength="60.3" lengthAdjust="spacingAndGlyphs">Devonian</text>
<text x="520.6" y="266.9" font-size="14" textLength="84" lengthAdjust="spacingAndGlyphs">P-T boundary</text>
<text x="587.7" y="329.4" font-size="14" textLength="44.2" lengthAdjust="spacingAndGlyphs">Triassic</text>
<text x="636" y="289.7" font-size="14" textLength="55" lengthAdjust="spacingAndGlyphs">Jurassic-</text>
<text x="636.2" y="308.1" font-size="14" textLength="72.8" lengthAdjust="spacingAndGlyphs">Cretaceous</text>
<text x="720.2" y="315.5" font-size="14" textLength="35.2" lengthAdjust="spacingAndGlyphs">PETM</text>
<text x="172.8" y="213.4" font-size="16.5" textLength="109.4" lengthAdjust="spacingAndGlyphs">Sulfate limited</text>
<text x="599.6" y="213.1" font-size="16.3" textLength="110.2" lengthAdjust="spacingAndGlyphs">Barium limited</text>
<path d="M280,222.8H189.2L192.2,216.8L166.5,227.3L192.2,237.7L189.2,231.9H280Z" fill="#000"/>
<path d="M597.8,220.7H713.8L710.6,214.6L736,225.2L710.6,235.5L713.8,229.9H597.8Z" fill="#000"/>
</g>
</svg></body></html>
